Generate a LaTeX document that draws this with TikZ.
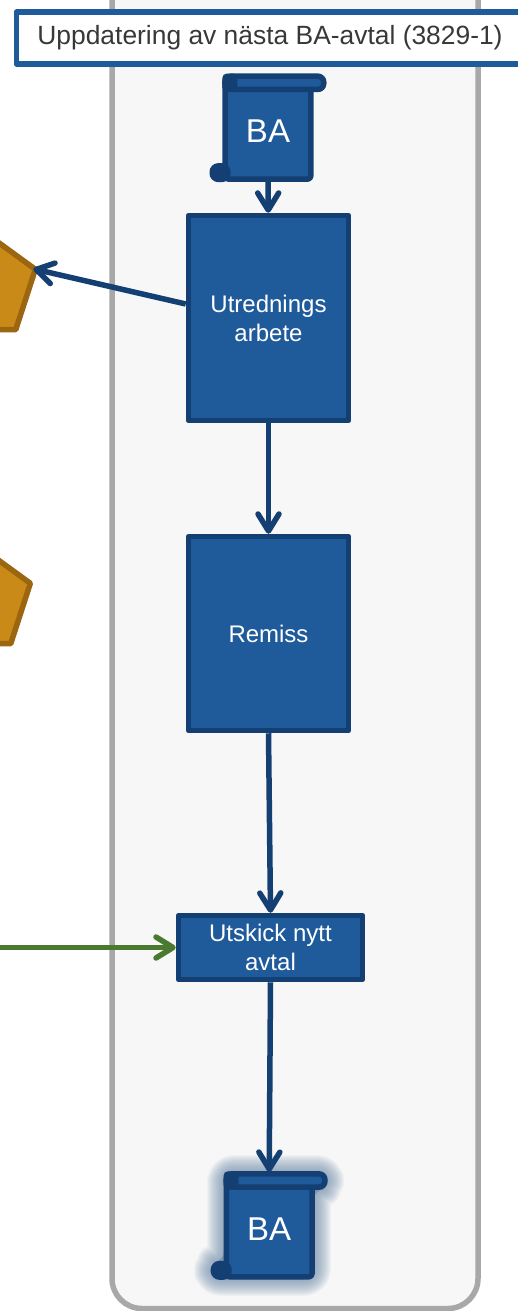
\documentclass[tikz,border=0pt]{standalone}
\usepackage{fontspec}
\setmainfont{Liberation Sans}
\usetikzlibrary{arrows.meta,shapes.geometric}
\definecolor{boxblue}{HTML}{1F5A9A}
\definecolor{boxedge}{HTML}{143F73}
\definecolor{gatefill}{HTML}{C98A18}
\definecolor{gateedge}{HTML}{9C6510}
\definecolor{poolfill}{HTML}{F7F7F7}
\definecolor{pooledge}{HTML}{A8A8A8}
\definecolor{msggreen}{HTML}{4A7A30}
\definecolor{glowblue}{HTML}{6F8BAB}
\tikzset{
  task/.style={draw=boxedge,fill=boxblue,line width=5.5pt,line join=round,inner sep=0pt,align=center,text=white,font=\fontsize{24}{29}\selectfont},
  scrollbody/.style={task,rounded corners=3pt,minimum width=85.6pt,minimum height=96.2pt,font=\fontsize{33}{38}\selectfont},
  gate/.style={regular polygon,regular polygon sides=5,draw=gateedge,fill=gatefill,line width=5.5pt,line join=round,inner sep=0pt,outer sep=0pt,minimum size=108pt},
  flow/.style={draw=boxedge,line width=5.5pt,-{Straight Barb[length=17pt,width=21pt,round]}},
  msgflow/.style={draw=msggreen,line width=5.5pt,-{Straight Barb[length=17pt,width=21pt,round]}}
}
% the two curls of a scroll, hung on the body node
\newcommand{\scrollcurls}[1]{
  \draw[boxedge,fill=boxblue,line width=5.5pt,rounded corners=6pt]
    ([xshift=2.5pt,yshift=4pt]#1.north west) rectangle ([xshift=10.2pt,yshift=-9.3pt]#1.north east);
  \fill[boxedge,rounded corners=4pt] ([yshift=6.5pt]#1.north west) rectangle ([xshift=15pt,yshift=-11.5pt]#1.north west);
  \draw[boxedge,fill=boxedge,line width=5.5pt,rounded corners=6pt]
    ([xshift=-10.2pt,yshift=15.9pt]#1.south west) rectangle ([xshift=5.3pt,yshift=2.5pt]#1.south west);
}
\begin{document}
\begin{tikzpicture}[x=1pt,y=-1pt]
  \clip (0,0) rectangle (518,1311);
  \fill[white] (0,0) rectangle (518,1311);

  % lane
  \draw[draw=pooledge,fill=poolfill,line width=5.5pt,rounded corners=30pt]
    (112,-40) rectangle (478,1308.5);

  \node[rectangle,draw=boxblue,fill=white,line width=5.5pt,line join=round,inner sep=0pt,minimum width=520pt,minimum height=52pt,text=black!78,font=\fontsize{26.4}{30}\selectfont] (title) at (276.5,38) {\hspace{-13pt}Uppdatering av nästa BA-avtal (3829-1)};

  \node[gate] (gate1) at (-16,286) {};
  \node[gate] (gate2) at (-21,600) {};

  % glow behind the last scroll
  \foreach \w in {34,32,30,28,26,24,22,20,18,16,14,12,10,8,6,4,2} {
    \draw[glowblue,opacity=0.06,line width=\w pt,line join=round,fill=glowblue,rounded corners=10pt]
      (224,1172) -- (327,1172) -- (327,1189) -- (314,1189) -- (314,1279) -- (211,1279) -- (211,1262) -- (224,1262) -- cycle;
  }

  \node[scrollbody] (baIn) at (268,131) {BA};
  \scrollcurls{baIn}
  \node[scrollbody] (baOut) at (269.2,1228.7) {BA};
  \scrollcurls{baOut}

  \node[task,minimum width=160pt,minimum height=205pt] (utredning) at (268.5,318) {Utrednings\\arbete};
  \node[task,minimum width=160pt,minimum height=194pt] (remiss) at (268.5,633.5) {Remiss};
  \node[task,minimum width=184pt,minimum height=64pt] (utskick) at (270.5,947.5) {Utskick nytt\\avtal};

  \coordinate (msgstart) at (-5,947.5);

  \draw[flow] (baIn) -- (utredning);
  \draw[flow,shorten >=-2pt] ([yshift=14pt]utredning.west) -- (gate1.corner 5);
  \draw[flow] (utredning) -- (remiss);
  \draw[flow] (remiss.south) -- (utskick.north);
  \draw[flow] (utskick.south) -- ([yshift=6pt]baOut.north);
  \draw[msgflow] (msgstart) -- (utskick.west);
\end{tikzpicture}
\end{document}
